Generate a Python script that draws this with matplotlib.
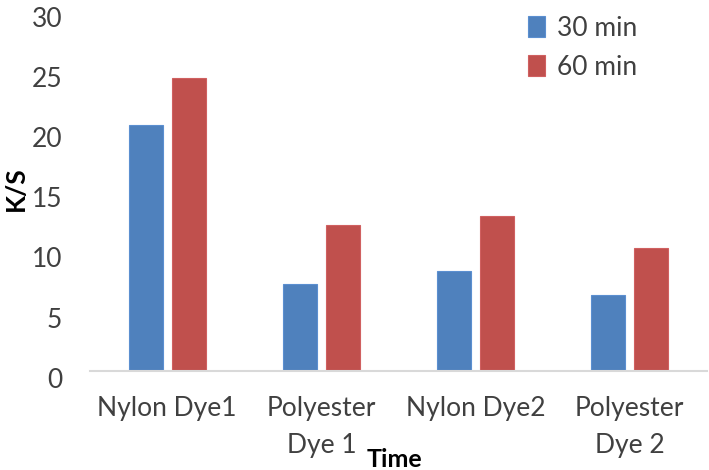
import matplotlib
matplotlib.use("Agg")
import matplotlib.pyplot as plt
import matplotlib.transforms as mtransforms
import numpy as np

categories = ["Nylon Dye1", "Polyester\nDye 1", "Nylon Dye2", "Polyester\nDye 2"]
series_names = ["30 min", "60 min"]
vals_30 = [20.4, 7.2, 8.3, 6.3]
vals_60 = [24.3, 12.1, 12.9, 10.2]
yticks = [0, 5, 10, 15, 20, 25, 30]

plt.rcParams['font.family'] = ['Lato', 'DejaVu Sans']

fig = plt.figure(figsize=(7.09, 4.70), dpi=100)
ax = fig.add_axes([0.127, 0.211, 0.870, 0.768])

x = np.arange(len(categories))
w = 0.22
off = 0.14
ax.bar(x - off, vals_30, w, color="#4F81BD", edgecolor="#5B8FD0", linewidth=0.8, label=series_names[0])
ax.bar(x + off, vals_60, w, color="#C0504D", edgecolor="#D06060", linewidth=0.8, label=series_names[1])

ax.set_xlim(-0.5, 3.5)
ax.set_ylim(0, 30)
ax.set_yticks(yticks)
ax.set_xticks(x)
ax.set_xticklabels(categories, linespacing=1.6)
for s in ["top", "right", "left"]:
    ax.spines[s].set_visible(False)
ax.spines["bottom"].set_color("#D9D9D9")
ax.spines["bottom"].set_linewidth(1.5)
ax.tick_params(axis="both", length=0, labelsize=19, colors="#404040")
ax.tick_params(axis="y", pad=20)
ax.tick_params(axis="x", pad=18)

shift = mtransforms.ScaledTranslation(0, -5 / 72, fig.dpi_scale_trans)
for lab in ax.get_yticklabels():
    lab.set_transform(lab.get_transform() + shift)

ax.set_ylabel("K/S", fontsize=19, fontweight="bold", color="black")
ax.yaxis.set_label_coords(-0.100, 0.505)
fig.text(0.557, 0.022, "Time", fontsize=18, fontweight="bold", ha="center", va="center")

leg = ax.legend(loc="upper right", bbox_to_anchor=(0.925, 1.05), frameon=False, fontsize=19,
                handlelength=0.65, handleheight=0.85, handletextpad=0.45, labelspacing=0.55,
                labelcolor="#404040")

fig.savefig("out.png", dpi=100)
